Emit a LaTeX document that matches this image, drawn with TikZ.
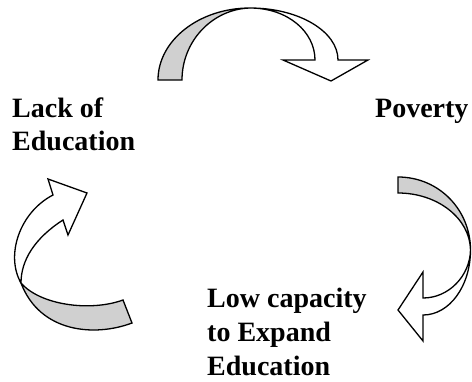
\documentclass[tikz,border=0pt]{standalone}
\usepackage{fontspec}
\setmainfont{Liberation Serif}
\definecolor{bandgray}{RGB}{208,208,208}
\begin{document}
\begin{tikzpicture}[x=1pt,y=-1pt,
  arrowline/.style={draw=black,line width=1.3pt,line join=miter},
  underside/.style={arrowline,fill=bandgray},
  topside/.style={arrowline,fill=white},
  cyclelabel/.style={font=\fontsize{28}{32.5}\selectfont\bfseries,align=left,inner sep=0pt,anchor=base west}]
\useasboundingbox (0,0) rectangle (472,381);
% top arrow
\path[underside] (158,80) .. controls (158,40.3) and (199.2,8) .. (250,8)
  .. controls (212.5,9) and (182,41) .. (182,80) -- cycle;
\path[topside] (250,8) .. controls (298.6,8) and (338,31.3) .. (338,60)
  -- (368,60) -- (331,81) -- (283,60) -- (315,60)
  .. controls (315,32) and (288,8) .. (250,8) -- cycle;
% right arrow
\path[underside] (398,177) .. controls (438.8,177) and (470.5,209.7) .. (470.5,250)
  .. controls (470,218.5) and (437.7,193) .. (398,193) -- cycle;
\path[topside] (470.5,250) .. controls (470.5,286) and (449.5,315) .. (423,315)
  -- (423,341) -- (398,310) -- (423,272) -- (423,298)
  .. controls (449,298) and (470,275.6) .. (470.5,250) -- cycle;
% left arrow
\path[underside] (21,283) .. controls (40,305) and (90,312) .. (123,300)
  -- (132,323) .. controls (95,337) and (40,333) .. (21,283) -- cycle;
\path[topside] (53,195) -- (48,179) -- (87,193) -- (68,235) -- (63,220)
  .. controls (35,238) and (21,260) .. (21,283)
  .. controls (5,255) and (20,212) .. (53,195) -- cycle;
% labels (base anchor = baseline of the last line)
\node[cyclelabel] (lack) at (12,150) {Lack of\\Education};
\node[cyclelabel] (poverty) at (375,117.5) {Poverty};
\node[cyclelabel,font=\fontsize{28}{34}\selectfont\bfseries] (lowcap) at (207,375.5) {Low capacity\\to Expand\\Education};
\end{tikzpicture}
\end{document}
